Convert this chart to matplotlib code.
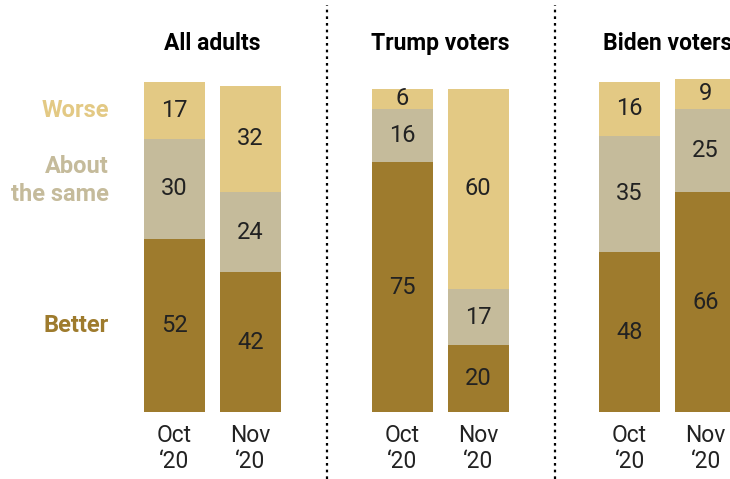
import numpy as np
import matplotlib.pyplot as plt

plt.rcParams['font.family'] = ['Roboto', 'DejaVu Sans']

# 数据
groups = ['All adults', 'Trump voters', 'Biden voters']
periods = ['Oct\n\u201820', 'Nov\n\u201820']
better = [[52, 42], [75, 20], [48, 66]]
same = [[30, 24], [16, 17], [35, 25]]
worse = [[17, 32], [6, 60], [16, 9]]
row_labels = ['Worse', 'About\nthe same', 'Better']

c_better = '#9e7b2d'
c_same = '#c5bb9b'
c_worse = '#e3c984'

fig = plt.figure(figsize=(7.30, 4.79), dpi=100)
ax = fig.add_axes([0, 0, 1, 1])
ax.set_xlim(0, 730)
ax.set_ylim(-20.1, 123.7)
ax.axis('off')

group_x = 212.5 + 227.5 * np.arange(len(groups))
offset = 38
width = 61

for g, gx in enumerate(group_x):
    ax.text(gx, 110.5, groups[g], ha='center', va='center',
            fontsize=16.5, fontweight='bold', color='black')
    for p in range(2):
        x = gx + (p - 0.5) * 2 * offset
        b, s, w = better[g][p], same[g][p], worse[g][p]
        segs = [(0, b, c_better), (b, s, c_same), (b + s, w, c_worse)]
        for bottom, h, col in segs:
            ax.bar(x, h, bottom=bottom, width=width, color=col, linewidth=0)
            ax.text(x, bottom + h / 2, str(h), ha='center', va='center',
                    fontsize=17, color='#222222')
        ax.text(x, -11, periods[p], ha='center', va='center', fontsize=16.5,
                color='#222222', linespacing=1.18)

# 左侧分类标签（对齐第一根柱子）
b0, s0, w0 = better[0][0], same[0][0], worse[0][0]
label_y = [b0 + s0 + w0 / 2, b0 + s0 / 2 + 2.5, b0 / 2]
label_c = [c_worse, c_same, c_better]
for lab, yy, cc in zip(row_labels, label_y, label_c):
    ax.text(109, yy, lab, ha='right', va='center', fontsize=17,
            fontweight='bold', color=cc, linespacing=1.23)

# 分隔虚线
for sx in [327, 555]:
    ax.plot([sx, sx], [-20.1, 122.3], color='black', linewidth=1.6,
            linestyle=(0, (1.2, 1.8)))

fig.savefig('out.png', dpi=100)
